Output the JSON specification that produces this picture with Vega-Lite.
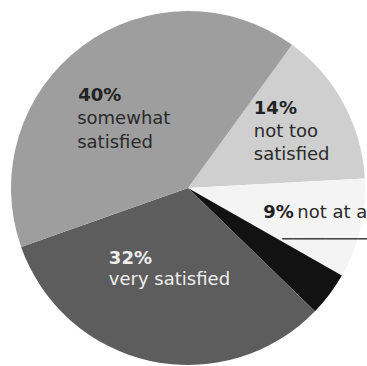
{
  "$schema": "https://vega.github.io/schema/vega-lite/v6.json",
  "width": 376,
  "height": 376,
  "padding": 0,
  "autosize": {"type": "none"},
  "background": "#ffffff",
  "config": {"view": {"stroke": null}, "text": {"font": "DejaVu Sans", "fontSize": 18}},
  "data": {
    "values": [
      {"rank": 1, "category": "not too satisfied", "pct": 14, "pctLabel": "14%", "desc": ["not too", "satisfied"]},
      {"rank": 2, "category": "not at all satisfied", "pct": 9, "pctLabel": "9%", "desc": ["not at all satisfied"]},
      {"rank": 3, "category": "no answer", "pct": 4, "pctLabel": "", "desc": [""]},
      {"rank": 4, "category": "very satisfied", "pct": 32, "pctLabel": "32%", "desc": ["very satisfied"]},
      {"rank": 5, "category": "somewhat satisfied", "pct": 40, "pctLabel": "40%", "desc": ["somewhat", "satisfied"]}
    ]
  },
  "encoding": {
    "theta": {"field": "pct", "type": "quantitative", "stack": true, "scale": {"range": [0.6283, 6.9115]}},
    "order": {"field": "rank", "type": "quantitative"}
  },
  "layer": [
    {
      "mark": {"type": "arc", "radius": 177},
      "encoding": {
        "color": {
          "field": "category",
          "type": "nominal",
          "scale": {
            "domain": ["not too satisfied", "not at all satisfied", "no answer", "very satisfied", "somewhat satisfied"],
            "range": ["#cfcfcf", "#f4f4f4", "#121212", "#5d5d5d", "#9e9e9e"]
          },
          "legend": null
        }
      }
    },
    {
      "mark": {"type": "text", "radius": 100, "dx": -50, "dy": -7, "align": "left", "baseline": "alphabetic", "fontWeight": "bold", "color": "#222222"},
      "encoding": {"text": {"condition": {"test": "datum.rank === 5", "field": "pctLabel"}, "value": ""}}
    },
    {
      "mark": {"type": "text", "radius": 100, "dx": -51, "dy": 16.5, "lineHeight": 23.5, "align": "left", "baseline": "alphabetic", "color": "#2a2a2a"},
      "encoding": {"text": {"condition": {"test": "datum.rank === 5", "field": "desc"}, "value": ""}}
    },
    {
      "mark": {"type": "text", "radius": 100, "dx": -22, "dy": -26, "align": "left", "baseline": "alphabetic", "fontWeight": "bold", "color": "#222222"},
      "encoding": {"text": {"condition": {"test": "datum.rank === 1", "field": "pctLabel"}, "value": ""}}
    },
    {
      "mark": {"type": "text", "radius": 100, "dx": -22, "dy": -3, "lineHeight": 23, "align": "left", "baseline": "alphabetic", "color": "#2a2a2a"},
      "encoding": {"text": {"condition": {"test": "datum.rank === 1", "field": "desc"}, "value": ""}}
    },
    {
      "mark": {"type": "text", "radius": 100, "dx": -22, "dy": 7, "align": "left", "baseline": "alphabetic", "fontWeight": "bold", "color": "#222222"},
      "encoding": {"text": {"condition": {"test": "datum.rank === 2", "field": "pctLabel"}, "value": ""}}
    },
    {
      "mark": {"type": "text", "radius": 100, "dx": 12, "dy": 7, "align": "left", "baseline": "alphabetic", "color": "#2a2a2a"},
      "encoding": {"text": {"condition": {"test": "datum.rank === 2", "field": "desc"}, "value": ""}}
    },
    {
      "mark": {"type": "text", "radius": 100, "dx": -3, "dy": 29, "align": "left", "baseline": "middle", "color": "#444444"},
      "encoding": {"text": {"condition": {"test": "datum.rank === 2", "value": "──────────"}, "value": ""}}
    },
    {
      "mark": {"type": "text", "radius": 80, "dx": -62, "dy": -2, "align": "left", "baseline": "alphabetic", "fontWeight": "bold", "color": "#eeeeee"},
      "encoding": {"text": {"condition": {"test": "datum.rank === 4", "field": "pctLabel"}, "value": ""}}
    },
    {
      "mark": {"type": "text", "radius": 80, "dx": -62, "dy": 18.5, "align": "left", "baseline": "alphabetic", "color": "#eeeeee"},
      "encoding": {"text": {"condition": {"test": "datum.rank === 4", "field": "desc"}, "value": ""}}
    }
  ]
}
